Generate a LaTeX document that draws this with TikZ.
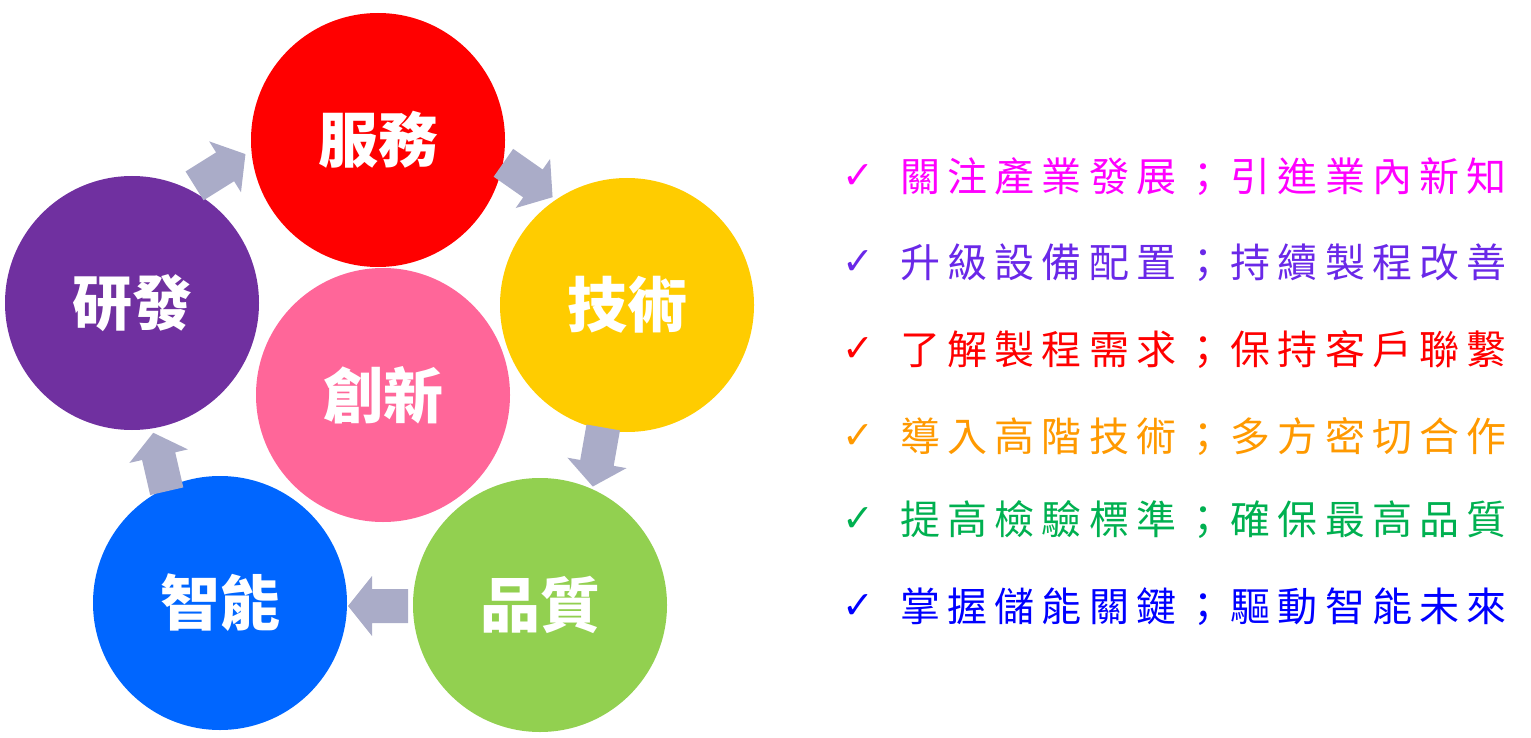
\documentclass[tikz,border=0pt]{standalone}
\usepackage{fontspec}
\newfontfamily\cjk{Noto Sans CJK TC}
\newfontfamily\cjkl[LetterSpace=18]{Noto Sans CJK TC}
\newfontfamily\dv{DejaVu Sans}
\definecolor{arr}{HTML}{AAACC8}
\definecolor{cR}{HTML}{FF0000}
\definecolor{cY}{HTML}{FFCC00}
\definecolor{cG}{HTML}{92D050}
\definecolor{cB}{HTML}{0066FF}
\definecolor{cP}{HTML}{7030A0}
\definecolor{cK}{HTML}{FF6699}
\definecolor{tM}{HTML}{FF00FF}
\definecolor{tV}{HTML}{6A28E8}
\definecolor{tR}{HTML}{FF0000}
\definecolor{tO}{HTML}{FF9900}
\definecolor{tG}{HTML}{00B050}
\definecolor{tB}{HTML}{0000FF}
\newcommand\blockarr[2]{\begin{scope}[shift={(#1)},rotate=#2]
\fill[arr] (-30,-17)--(6,-17)--(6,-30)--(30,0)--(6,30)--(6,17)--(-30,17)--cycle;\end{scope}}
\begin{document}
\begin{tikzpicture}[x=1pt,y=-1pt,
  bub/.style={circle,minimum size=254pt,inner sep=0pt,text=white,font=\cjk\bfseries\fontsize{60}{60}\selectfont},
  item/.style={anchor=west,inner sep=0pt,font=\cjkl\fontsize{40}{40}\selectfont}]
\useasboundingbox (0,0) rectangle (1531,738);
\node[bub,fill=cR] (fw) at (378,140) {服務};
\node[bub,fill=cY] (js) at (627,305) {技術};
\node[bub,fill=cG] (pz) at (540,605) {品質};
\node[bub,fill=cB] (zn) at (220,603) {智能};
\node[bub,fill=cP] (yf) at (132,303) {研發};
\node[bub,fill=cK] (cx) at (383,395) {創新};
\blockarr{220,170}{32}
\blockarr{528,180}{-35}
\blockarr{598,457}{-100}
\blockarr{378,606}{180}
\blockarr{160,462}{103}
\foreach \y/\c/\t [count=\i] in {177/tM/關注產業發展；引進業內新知,263/tV/升級設備配置；持續製程改善,350/tR/了解製程需求；保持客戶聯繫,437/tO/導入高階技術；多方密切合作,520/tG/提高檢驗標準；確保最高品質,607/tB/掌握儲能關鍵；驅動智能未來}{
  \node[anchor=center,text=\c,font=\dv\fontsize{38}{38}\selectfont] (ck\i) at (858,\y) {✓};
  \node[item,text=\c] (it\i) at (900,\y) {\t};
}
\end{tikzpicture}
\end{document}
